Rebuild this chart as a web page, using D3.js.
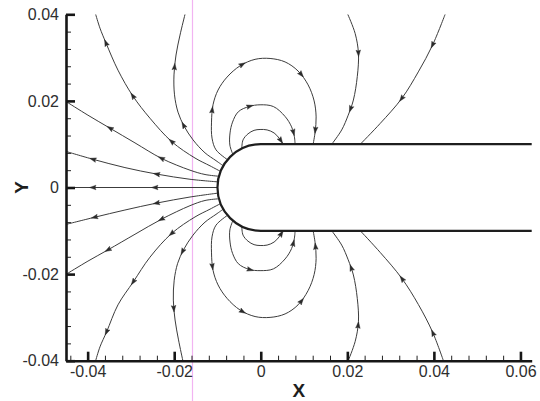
<!DOCTYPE html>
<html><head><meta charset="utf-8">
<script src="https://cdn.jsdelivr.net/npm/d3@7"></script>
<style>body{margin:0;background:#fff}svg{display:block}</style>
</head><body>
<svg id="c" width="540" height="401"></svg>
<script>
// ---------- data (chart units) ----------
const xTicks = [-0.04, -0.02, 0, 0.02, 0.04, 0.06];
const xTickLabels = ["-0.04", "-0.02", "0", "0.02", "0.04", "0.06"];
const yTicks = [-0.04, -0.02, 0, 0.02, 0.04];
const yTickLabels = ["-0.04", "-0.02", "0", "0.02", "0.04"];
const xDomain = [-0.045, 0.0626];
const yDomain = [-0.04, 0.04];
const markerX = -0.0158;            // pink vertical line
const bodyHalf = 0.01;              // half thickness of body

// streamlines (flow direction = array order); arr* = arrow positions on each line
const lineC  = [[-0.0100,0],[-0.0449,0]];
const arrC   = [[-0.0244,0],[-0.0388,0]];

const lineU2 = [[-0.00992,0.0013],[-0.01635,0.0019],[-0.02405,0.0031],[-0.03138,0.0046],[-0.0387,0.0065],[-0.0449,0.0083]];
const arrU2  = [[-0.0240,0.0031],[-0.0387,0.0065]];
const lineL2 = [[-0.00992,-0.0013],[-0.01635,-0.0022],[-0.02405,-0.0036],[-0.03138,-0.0052],[-0.0385,-0.0069],[-0.0449,-0.0085]];
const arrL2  = [[-0.0240,-0.0036],[-0.0383,-0.0071]];

const lineU3 = [[-0.00966,0.0026],[-0.01288,0.0030],[-0.01635,0.0040],[-0.02289,0.0067],[-0.02906,0.0103],[-0.03484,0.0137],[-0.03993,0.0167],[-0.0449,0.0198]];
const arrU3  = [[-0.0229,0.0067],[-0.0348,0.0137]];
const lineL3 = [[-0.00966,-0.0026],[-0.01288,-0.0030],[-0.01635,-0.0042],[-0.02289,-0.0073],[-0.02906,-0.0108],[-0.0353,-0.0144],[-0.03993,-0.0170],[-0.0449,-0.0200]];
const arrL3  = [[-0.0229,-0.0073],[-0.0353,-0.0144]];

const lineU4 = [[-0.00927,0.0037],[-0.01172,0.0050],[-0.01519,0.0068],[-0.02058,0.0106],[-0.0256,0.0160],[-0.02953,0.0211],[-0.03299,0.0271],[-0.03577,0.0334],[-0.03715,0.0368],[-0.03815,0.0400]];
const arrU4  = [[-0.0206,0.0106],[-0.0295,0.0211],[-0.0358,0.0334]];
const lineL4 = [[-0.00927,-0.0037],[-0.01172,-0.0050],[-0.01519,-0.0068],[-0.02058,-0.0106],[-0.0256,-0.0161],[-0.02946,-0.0218],[-0.03299,-0.0271],[-0.0356,-0.0333],[-0.03715,-0.0368],[-0.03815,-0.0400]];
const arrL4  = [[-0.0206,-0.0106],[-0.0295,-0.0218],[-0.0356,-0.0333]];

const lineU5 = [[-0.00866,0.0050],[-0.01034,0.0062],[-0.01288,0.0080],[-0.01565,0.0110],[-0.01773,0.0142],[-0.01912,0.0174],[-0.01993,0.0214],[-0.02005,0.0260],[-0.01958,0.0306],[-0.01866,0.0352],[-0.0175,0.0400]];
const arrU5  = [[-0.0171,0.0148],[-0.0200,0.0279]];
const lineL5 = [[-0.00866,-0.0050],[-0.01034,-0.0062],[-0.01288,-0.0080],[-0.01565,-0.0110],[-0.0178,-0.0143],[-0.0192,-0.0175],[-0.0200,-0.0214],[-0.0202,-0.0260],[-0.0198,-0.0306],[-0.0190,-0.0352],[-0.0180,-0.0400]];
const arrL5  = [[-0.0171,-0.0152],[-0.0202,-0.0279]];

const loopU1 = [[-0.00765,0.0064],[-0.01034,0.0087],[-0.01126,0.0114],[-0.01138,0.0151],[-0.01103,0.0191],[-0.00987,0.0225],[-0.00779,0.0255],[-0.00478,0.0281],[-0.00132,0.0296],[0.00215,0.0298],[0.00562,0.0290],[0.00862,0.0269],[0.01094,0.0237],[0.01233,0.0200],[0.01279,0.0163],[0.01256,0.0128],[0.0121,0.0100]];
const arrLU1 = [[-0.0113,0.0179],[-0.0044,0.0287],[0.0091,0.0260],[0.01255,0.0133]];
const loopL1 = [[-0.00765,-0.0064],[-0.01034,-0.0087],[-0.01126,-0.0114],[-0.01138,-0.0151],[-0.01103,-0.0191],[-0.00987,-0.0225],[-0.00779,-0.0256],[-0.00478,-0.0283],[-0.00132,-0.0298],[0.00215,-0.0300],[0.00562,-0.0292],[0.00862,-0.0271],[0.01094,-0.0238],[0.01233,-0.0201],[0.01279,-0.0164],[0.01256,-0.0128],[0.0121,-0.0100]];
const arrLL1 = [[-0.0113,-0.0183],[-0.0044,-0.0290],[0.0095,-0.0264],[0.0124,-0.0137]];

const loopU2 = [[-0.00643,0.0076],[-0.00714,0.0098],[-0.0071,0.0126],[-0.00652,0.0151],[-0.00518,0.0175],[-0.00271,0.0187],[-0.00016,0.0191],[0.00291,0.0187],[0.00562,0.0164],[0.00712,0.0140],[0.00777,0.0117],[0.00793,0.0100]];
const arrLU2 = [[-0.0025,0.0187],[0.0075,0.0128]];
const loopL2 = [[-0.00643,-0.0076],[-0.00714,-0.0098],[-0.0071,-0.0126],[-0.00652,-0.0152],[-0.00518,-0.0176],[-0.00271,-0.0189],[-0.00016,-0.0192],[0.00291,-0.0188],[0.00562,-0.0165],[0.00712,-0.0141],[0.00777,-0.0117],[0.00793,-0.0100]];
const arrLL2 = [[-0.0025,-0.0190],[0.0075,-0.0129]];

const loopU3 = [[-0.00439,0.0090],[-0.00409,0.0110],[-0.00294,0.0124],[-0.00155,0.0132],[-0.00016,0.0134],[0.00146,0.0133],[0.00308,0.0126],[0.00424,0.0114],[0.00516,0.0100]];
const arrLU3 = [[0.0045,0.0108]];
const loopL3 = [[-0.00439,-0.0090],[-0.00409,-0.0110],[-0.00294,-0.0124],[-0.00155,-0.0132],[-0.00016,-0.0134],[0.00146,-0.0133],[0.00308,-0.0126],[0.00424,-0.0114],[0.00516,-0.0100]];
const arrLL3 = [[0.0047,-0.0107]];

const lineU9 = [[0.0201,0.0400],[0.0218,0.0356],[0.02257,0.0310],[0.0223,0.0256],[0.0214,0.0202],[0.0202,0.0167],[0.0187,0.0133],[0.0164,0.0100]];
const arrU9  = [[0.02257,0.0310],[0.0206,0.0183]];
const lineL9 = [[0.0202,-0.0400],[0.0218,-0.0356],[0.02257,-0.0310],[0.0223,-0.0256],[0.0214,-0.0202],[0.0202,-0.0167],[0.0187,-0.0133],[0.0164,-0.0100]];
const arrL9  = [[0.0223,-0.0318],[0.0205,-0.0187]];

const lineU10 = [[0.0426,0.0400],[0.0397,0.0329],[0.0364,0.0267],[0.0326,0.0206],[0.0276,0.0148],[0.0230,0.0100]];
const arrU10  = [[0.0397,0.0329],[0.0326,0.0206]];
const lineL10 = [[0.0422,-0.0400],[0.0397,-0.0334],[0.0364,-0.0270],[0.0326,-0.0210],[0.0276,-0.0150],[0.0230,-0.0100]];
const arrL10  = [[0.0397,-0.0337],[0.0326,-0.0211]];

const streams = [
  [lineC,arrC],[lineU2,arrU2],[lineL2,arrL2],[lineU3,arrU3],[lineL3,arrL3],
  [lineU4,arrU4],[lineL4,arrL4],[lineU5,arrU5],[lineL5,arrL5],
  [loopU1,arrLU1],[loopL1,arrLL1],[loopU2,arrLU2],[loopL2,arrLL2],[loopU3,arrLU3],[loopL3,arrLL3],
  [lineU9,arrU9],[lineL9,arrL9],[lineU10,arrU10],[lineL10,arrL10]
];

// ---------- drawing ----------
const svg = d3.select("#c");
const x = d3.scaleLinear().domain(xDomain).range([66, 531.7]);
const y = d3.scaleLinear().domain(yDomain).range([360.7, 14.3]);
const FONT = "'Liberation Sans', Arial, Helvetica, sans-serif";

svg.append("defs").append("clipPath").attr("id","plot")
  .append("rect").attr("x",x(xDomain[0])).attr("y",y(yDomain[1]))
  .attr("width",x(xDomain[1])-x(xDomain[0])).attr("height",y(yDomain[0])-y(yDomain[1]));

// pink marker line (full height)
svg.append("line").attr("x1",Math.round(x(markerX))+0.5).attr("x2",Math.round(x(markerX))+0.5)
  .attr("y1",0).attr("y2",401).attr("stroke","#f2b4f2").attr("stroke-width",1.2);

const g = svg.append("g").attr("clip-path","url(#plot)");
const line = d3.line().x(d=>x(d[0])).y(d=>y(d[1])).curve(d3.curveCatmullRom.alpha(0.5));

streams.forEach(([pts, arrs]) => {
  const p = g.append("path").attr("d", line(pts)).attr("fill","none")
    .attr("stroke","#3c3c3c").attr("stroke-width",1);
  const node = p.node();
  const total = node.getTotalLength();
  arrs.forEach(a => {
    const ax = x(a[0]), ay = y(a[1]);
    let best = 0, bd = Infinity;
    for (let L = 0; L <= total; L += 0.5) {
      const q = node.getPointAtLength(L);
      const dd = (q.x-ax)*(q.x-ax)+(q.y-ay)*(q.y-ay);
      if (dd < bd) { bd = dd; best = L; }
    }
    const q0 = node.getPointAtLength(Math.max(0,best-2));
    const q1 = node.getPointAtLength(Math.min(total,best+2));
    const c = node.getPointAtLength(best);
    const ang = Math.atan2(q1.y-q0.y, q1.x-q0.x)*180/Math.PI;
    g.append("path").attr("d","M3.5,0L-3,-2.3L-2,0L-3,2.3Z")
      .attr("transform",`translate(${c.x},${c.y}) rotate(${ang})`)
      .attr("fill","#2a2a2a").attr("stroke","#2a2a2a").attr("stroke-width",0.4);
  });
});

// body outline
const bp = d3.path();
bp.moveTo(x(xDomain[1]), y(bodyHalf));
bp.lineTo(x(0), y(bodyHalf));
bp.arc(x(0), y(0), (y(0)-y(bodyHalf)), -Math.PI/2, Math.PI/2, true);
bp.lineTo(x(xDomain[1]), y(-bodyHalf));
svg.append("path").attr("d", bp.toString()).attr("fill","none")
  .attr("stroke","#1e1e1e").attr("stroke-width",2.2);

// axes
const xMinor = d3.range(-44, 63, 4).map(v => v/1000);
const yMinor = d3.range(-40, 41, 4).map(v => v/1000);

const xa = svg.append("g").attr("transform",`translate(0,${y(yDomain[0])})`);
xa.call(d3.axisBottom(x).tickValues(xMinor).tickSize(-5).tickFormat(""))
  .call(s=>s.select(".domain").remove())
  .call(s=>s.selectAll("line").attr("stroke","#222").attr("stroke-width",1));
const xb = svg.append("g").attr("transform",`translate(0,${y(yDomain[0])})`);
xb.call(d3.axisBottom(x).tickValues(xTicks).tickSizeInner(-9).tickSizeOuter(0).tickPadding(5)
    .tickFormat((d,i)=>xTickLabels[i]));
xb.select(".domain").attr("stroke","#161616").attr("stroke-width",2.6);
xb.selectAll("line").attr("stroke","#161616").attr("stroke-width",2.6);
xb.selectAll("text").attr("font-family",FONT).attr("font-size",16).attr("fill","#2e2e2e");

const ya = svg.append("g").attr("transform",`translate(${x(xDomain[0])},0)`);
ya.call(d3.axisLeft(y).tickValues(yMinor).tickSize(-5).tickFormat(""))
  .call(s=>s.select(".domain").remove())
  .call(s=>s.selectAll("line").attr("stroke","#222").attr("stroke-width",1));
const yb = svg.append("g").attr("transform",`translate(${x(xDomain[0])},0)`);
yb.call(d3.axisLeft(y).tickValues(yTicks).tickSizeInner(-9).tickSizeOuter(0).tickPadding(7)
    .tickFormat((d,i)=>yTickLabels[i]));
yb.select(".domain").attr("stroke","#161616").attr("stroke-width",2.6);
yb.selectAll("line").attr("stroke","#161616").attr("stroke-width",2.6);
yb.selectAll("text").attr("font-family",FONT).attr("font-size",16).attr("fill","#2e2e2e");

// axis titles
svg.append("text").attr("x",(x.range()[0]+x.range()[1])/2).attr("y",397)
  .attr("text-anchor","middle").attr("font-family",FONT).attr("font-weight","bold")
  .attr("font-size",19).attr("fill","#1e1e1e").text("X");
svg.append("text").attr("transform",`translate(28,${(y.range()[0]+y.range()[1])/2}) rotate(-90)`)
  .attr("text-anchor","middle").attr("font-family",FONT).attr("font-weight","bold")
  .attr("font-size",19).attr("fill","#1e1e1e").text("Y");
</script>
</body></html>
